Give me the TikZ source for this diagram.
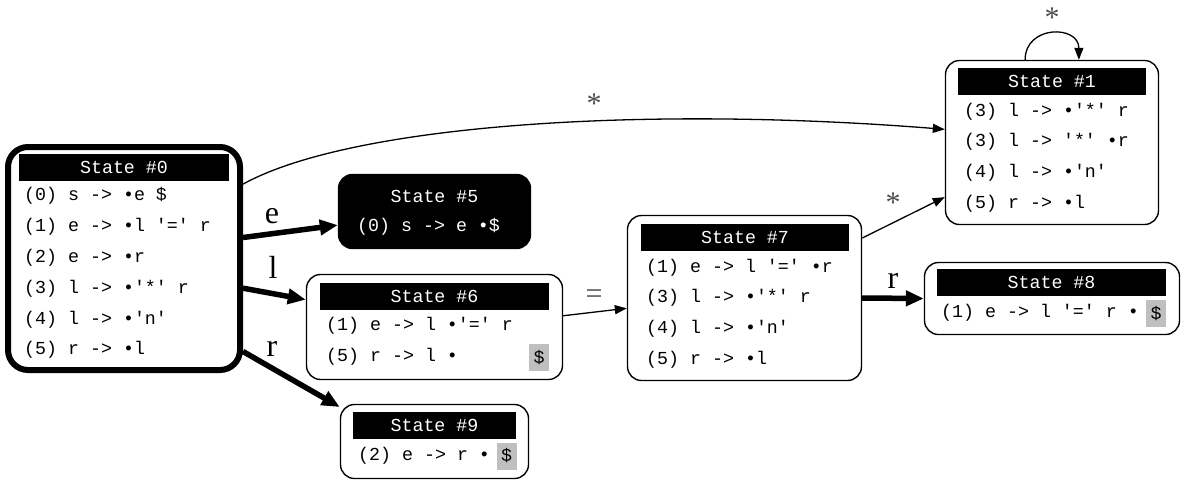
\documentclass[tikz,border=0pt]{standalone}
\usepackage{fontspec}
\setmainfont{Liberation Serif}
\setmonofont{Liberation Mono}
\usepackage{tikz}
\usetikzlibrary{arrows.meta,positioning}

\newcommand{\codesize}{\ttfamily\fontsize{18.3}{22}\selectfont}

\begin{document}
\begin{tikzpicture}[x=1pt, y=-1pt,
  stbox/.style={draw, rectangle, rounded corners=14pt, line width=1.4pt, inner sep=0pt},
  hdr/.style={fill=black, text=white, inner sep=0pt, minimum height=27pt, font=\codesize},
  prod/.style={anchor=west, inner sep=0pt, font=\codesize},
  endmark/.style={fill=black!25, inner sep=0pt, minimum width=20pt, minimum height=27pt, font=\codesize},
  thinedge/.style={line width=1.3pt, -{Triangle[length=12pt,width=9pt]}},
  thickedge/.style={line width=5.5pt, -{Triangle[length=18pt,width=15pt]}},
  edgelbl/.style={inner sep=0pt, font=\fontsize{32}{32}\selectfont},
  graylbl/.style={inner sep=0pt, text=black!70, font=\fontsize{30}{30}\selectfont}]
  \useasboundingbox (0,0) rectangle (1185,485);

  % state 0
  \node[stbox, line width=6pt, rounded corners=20pt, minimum width=232pt, minimum height=223pt] (st0) at (124,258.5) {};
  \node[hdr, minimum width=210pt] (hd0) at (124,167) {State \#0};
  \node[prod] (st0a) at (24,196) {(0) s -> •e \$};
  \node[prod] (st0b) at (24,227) {(1) e -> •l '=' r};
  \node[prod] (st0c) at (24,258) {(2) e -> •r};
  \node[prod] (st0d) at (24,289) {(3) l -> •'*' r};
  \node[prod] (st0e) at (24,320) {(4) l -> •'n'};
  \node[prod] (st0f) at (24,350) {(5) r -> •l};

  % state 1
  \node[stbox, minimum width=213pt, minimum height=164pt] (st1) at (1052,142.5) {};
  \node[hdr, minimum width=188pt] (hd1) at (1052,81.5) {State \#1};
  \node[prod] (st1a) at (964,112) {(3) l -> •'*' r};
  \node[prod] (st1b) at (964,142) {(3) l -> '*' •r};
  \node[prod] (st1c) at (964,173) {(4) l -> •'n'};
  \node[prod] (st1d) at (964,204) {(5) r -> •l};

  % state 5
  \node[stbox, fill=black, minimum width=192pt, minimum height=74pt] (st5) at (434.5,211.5) {};
  \node[text=white, inner sep=0pt, font=\codesize] (hd5) at (434.5,196) {State \#5};
  \node[prod, text=white] (st5a) at (357,227) {(0) s -> e •\$};

  % state 6
  \node[stbox, minimum width=256pt, minimum height=105pt] (st6) at (434.5,327) {};
  \node[hdr, minimum width=229pt] (hd6) at (434.5,296.5) {State \#6};
  \node[prod] (st6a) at (326,326) {(1) e -> l •'=' r};
  \node[prod] (st6b) at (326,357) {(5) r -> l •};
  \node[endmark] (eo6) at (539,357.5) {\$};

  % state 7
  \node[stbox, minimum width=234pt, minimum height=165pt] (st7) at (744.5,298) {};
  \node[hdr, minimum width=208pt] (hd7) at (745,237.5) {State \#7};
  \node[prod] (st7a) at (646,268) {(1) e -> l '=' •r};
  \node[prod] (st7b) at (646,298) {(3) l -> •'*' r};
  \node[prod] (st7c) at (646,329) {(4) l -> •'n'};
  \node[prod] (st7d) at (646,360) {(5) r -> •l};

  % state 8
  \node[stbox, minimum width=255pt, minimum height=72pt] (st8) at (1052,298.5) {};
  \node[hdr, minimum width=229pt] (hd8) at (1051.5,282.5) {State \#8};
  \node[prod] (st8a) at (941,313) {(1) e -> l '=' r •};
  \node[endmark] (eo8) at (1156,313.5) {\$};

  % state 9
  \node[stbox, minimum width=188pt, minimum height=74pt] (st9) at (434.5,441.5) {};
  \node[hdr, minimum width=163pt] (hd9) at (434.5,425) {State \#9};
  \node[prod] (st9a) at (358,456) {(2) e -> r •};
  \node[endmark] (eo9) at (506.5,456) {\$};

  % transitions
  \draw[thinedge] (st0.32) .. controls (350,125) and (640,105) .. (st1.173) node[graylbl] (tr01) at (594,104) {*};
  \draw[thickedge] (st0.10) -- (st5.188) node[edgelbl] (tr05) at (272,216) {e};
  \draw[thickedge] (st0.-14) -- (st6.168) node[edgelbl] (tr06) at (273,267) {l};
  \draw[thickedge] (st0.-38) -- (st9.160) node[edgelbl] (tr09) at (272,349) {r};
  \draw[thinedge] (st6.5) -- (st7.185) node[graylbl] (tr67) at (594,297) {=};
  \draw[thinedge] (st7.27) -- (st1.207) node[graylbl] (tr71) at (893,203) {*};
  \draw[thickedge] (st7.east) -- (st8.west) node[edgelbl] (tr78) at (893,281) {r};
  \draw[thinedge] (st1.108) .. controls +(0,-35) and +(0,-35) .. (st1.72) node[graylbl] (tr11) at (1052,18) {*};
\end{tikzpicture}
\end{document}
